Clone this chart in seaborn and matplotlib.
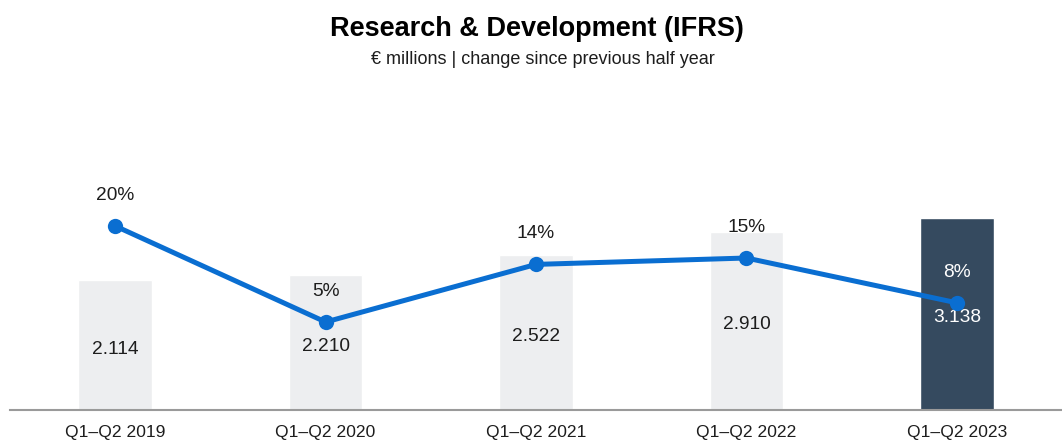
import matplotlib
matplotlib.use("Agg")
import matplotlib.pyplot as plt
import seaborn as sns
import numpy as np
import pandas as pd

categories = ["Q1–Q2 2019", "Q1–Q2 2020", "Q1–Q2 2021", "Q1–Q2 2022", "Q1–Q2 2023"]
rd_values = [2114, 2210, 2522, 2910, 3138]
rd_labels = ["2.114", "2.210", "2.522", "2.910", "3.138"]
change_pct = [20, 5, 14, 15, 8]
change_labels = ["20%", "5%", "14%", "15%", "8%"]

bar_colors = ["#EDEEF0", "#EDEEF0", "#EDEEF0", "#EDEEF0", "#354A5F"]
label_colors = ["#1d1d1d", "#1d1d1d", "#1d1d1d", "#1d1d1d", "#FFFFFF"]
line_color = "#0A6ED1"

sns.set_theme(style="white")
plt.rcParams['font.family'] = ['Liberation Sans', 'DejaVu Sans']

df = pd.DataFrame({"cat": categories, "val": rd_values})

fig = plt.figure(figsize=(10.62, 4.44), dpi=100)
ax = fig.add_axes([10/1062, 34/444, 1052/1062, 310/444])

sns.barplot(data=df, x="cat", y="val", hue="cat", palette=bar_colors,
            legend=False, width=0.35, ax=ax, saturation=1)
ax.set_xlim(-0.5, 4.5)
ax.set_ylim(0, 5057)
ax.set_xlabel("")
ax.set_ylabel("")
ax.set_yticks([])
for s in ["top", "right", "left"]:
    ax.spines[s].set_visible(False)
ax.spines["bottom"].set_color("#9a9a9a")
ax.spines["bottom"].set_linewidth(1.5)
ax.tick_params(axis="x", length=0, labelsize=12.6, colors="#1d1d1d", pad=11)

for i, (v, lab) in enumerate(zip(rd_values, rd_labels)):
    ax.annotate(lab, (i, v / 2), xytext=(0, -3), textcoords="offset points",
                ha="center", va="center", fontsize=13.8, color=label_colors[i])

ax2 = ax.twinx()
sns.lineplot(x=np.arange(len(change_pct)), y=change_pct, ax=ax2, color=line_color,
             linewidth=3.6, marker="o", markersize=11, markeredgewidth=0)
ax2.set_ylim(-8.75, 39.69)
ax2.set_yticks([])
ax2.set_ylabel("")
for s in ["top", "right", "left", "bottom"]:
    ax2.spines[s].set_visible(False)
for i, (p, lab) in enumerate(zip(change_pct, change_labels)):
    ax2.annotate(lab, (i, p), xytext=(0, 22), textcoords="offset points",
                 ha="center", va="center", fontsize=13.8,
                 color=label_colors[i])

fig.text(537/1062, 1 - 29/444, "Research & Development (IFRS)", ha="center", va="center",
         fontsize=19.5, fontweight="bold", color="#000000")
fig.text(543/1062, 1 - 60/444, "€ millions | change since previous half year", ha="center",
         va="center", fontsize=13, color="#1d1d1d")

fig.savefig("out.png", dpi=100)
